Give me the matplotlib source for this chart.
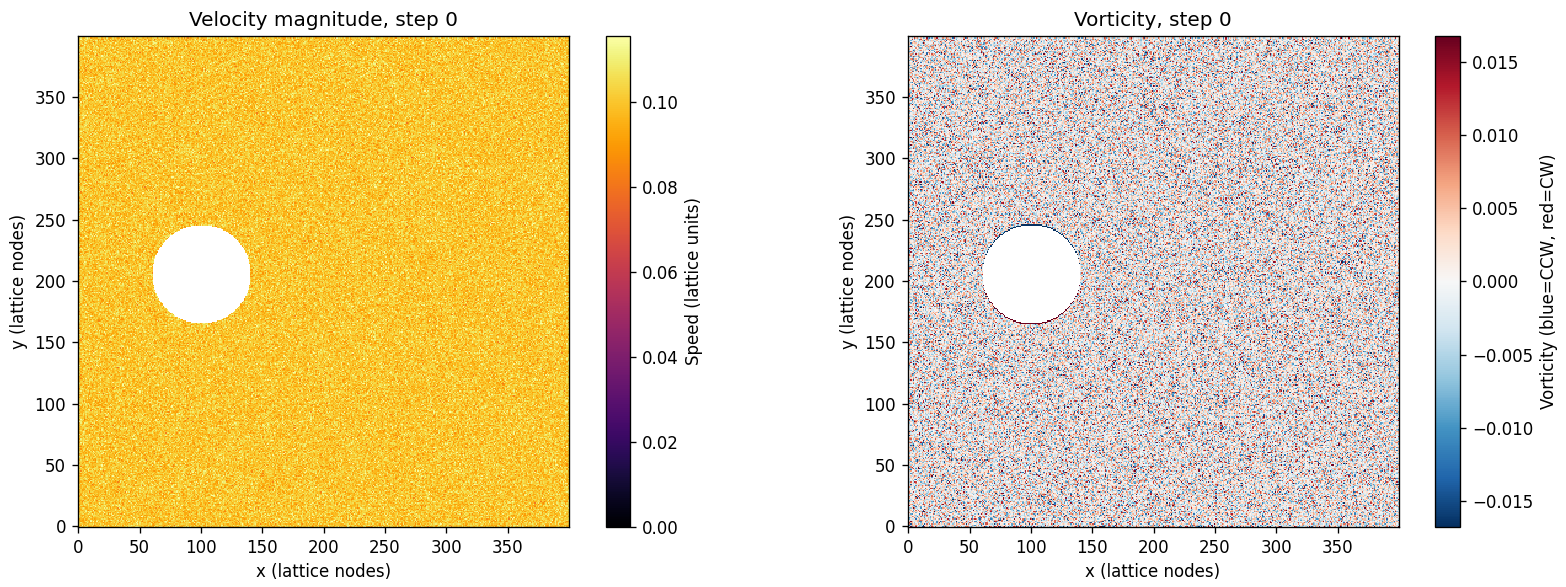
import numpy as np
import matplotlib
matplotlib.use("Agg")
import matplotlib.pyplot as plt

# grid and obstacle
nx, ny = 400, 400
cyl_x, cyl_y, cyl_r = 100, 205, 40
u0 = 0.1            # inflow speed (lattice units)
noise_amp = 0.006   # initial perturbation of each velocity component
step = 0

# colour limits
speed_max = 0.1155
vort_lim = 0.0168

# initial state: uniform flow plus small perturbation (seeded so it is repeatable)
rng = np.random.default_rng(0)
ux = u0 + noise_amp * rng.standard_normal((ny, nx))
uy = noise_amp * rng.standard_normal((ny, nx))

yy, xx = np.mgrid[0:ny, 0:nx]
solid = (xx - cyl_x) ** 2 + (yy - cyl_y) ** 2 < cyl_r ** 2
ux[solid] = 0.0
uy[solid] = 0.0

speed = np.sqrt(ux ** 2 + uy ** 2)
dvdx = np.gradient(uy, axis=1)
dudy = np.gradient(ux, axis=0)
vort = dvdx - dudy

speed = np.ma.masked_where(solid, speed)
vort = np.ma.masked_where(solid, vort)

fig = plt.figure(figsize=(1566 / 120, 587 / 120), dpi=120)
ax1 = fig.add_axes([0.0492, 0.1022, 0.3142, 0.8365])
cax1 = fig.add_axes([0.3870, 0.1022, 0.0153, 0.8365])
ax2 = fig.add_axes([0.5792, 0.1022, 0.3142, 0.8365])
cax2 = fig.add_axes([0.9164, 0.1022, 0.0160, 0.8365])

im1 = ax1.imshow(speed, origin="lower", cmap="inferno", vmin=0, vmax=speed_max,
                 interpolation="nearest")
ax1.set_title(f"Velocity magnitude, step {step}")
ax1.set_xlabel("x (lattice nodes)")
ax1.set_ylabel("y (lattice nodes)")
cb1 = fig.colorbar(im1, cax=cax1)
cb1.set_label("Speed (lattice units)")

im2 = ax2.imshow(vort, origin="lower", cmap="RdBu_r", vmin=-vort_lim, vmax=vort_lim,
                 interpolation="nearest")
ax2.set_title(f"Vorticity, step {step}")
ax2.set_xlabel("x (lattice nodes)")
ax2.set_ylabel("y (lattice nodes)")
cb2 = fig.colorbar(im2, cax=cax2)
cb2.set_label("Vorticity (blue=CCW, red=CW)")

for ax in (ax1, ax2):
    ax.set_xticks(np.arange(0, 400, 50))
    ax.set_yticks(np.arange(0, 400, 50))

fig.savefig("out.png", dpi=120)
